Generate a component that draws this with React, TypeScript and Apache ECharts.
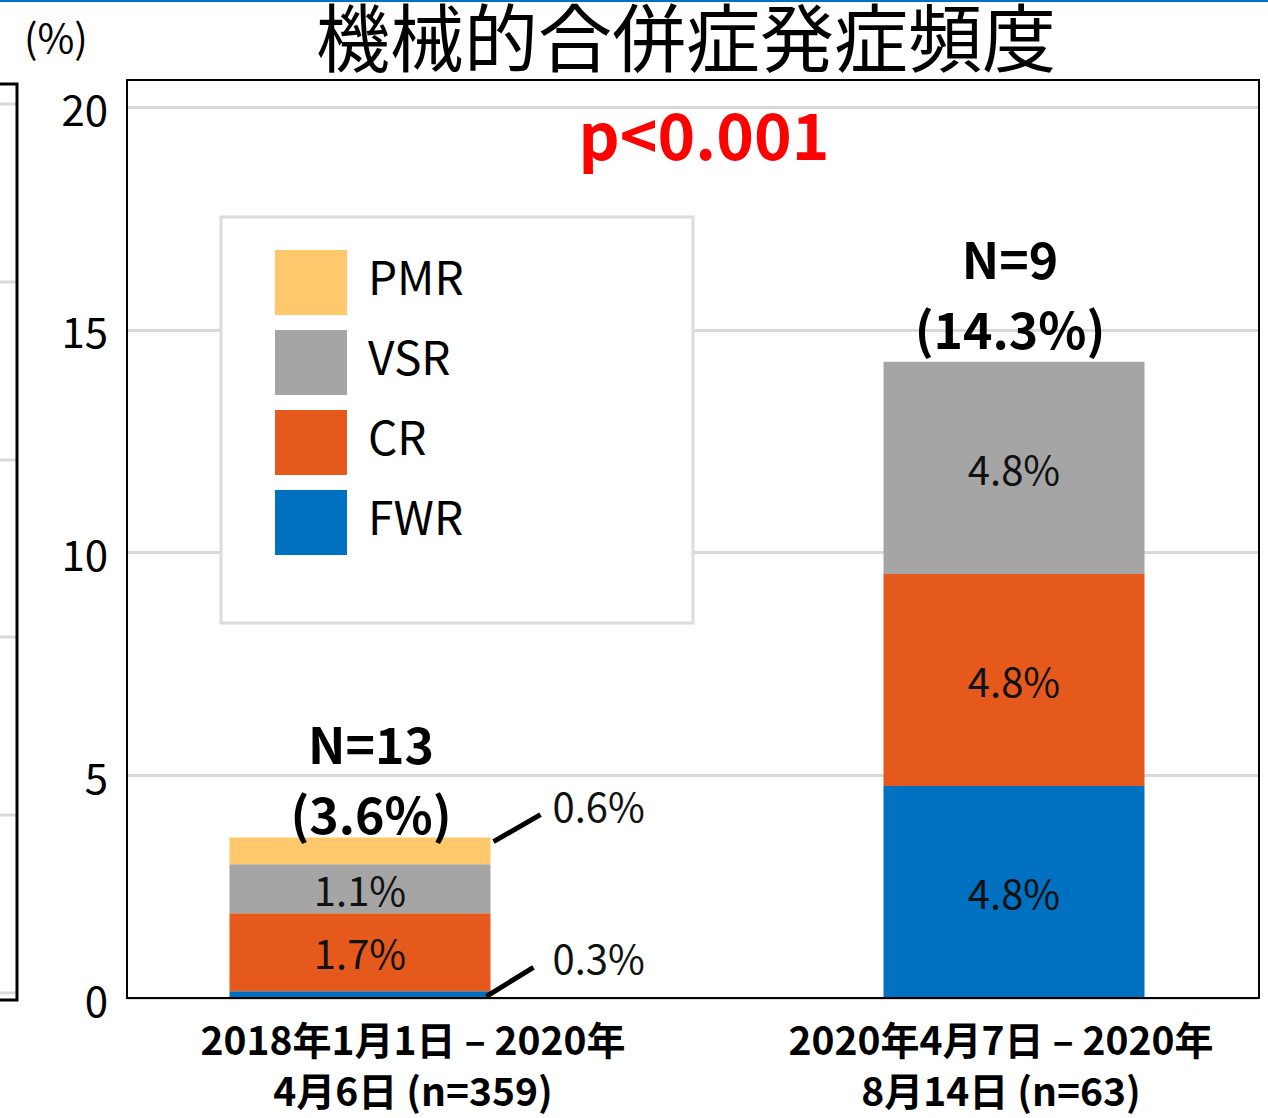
import React, { useEffect, useRef } from "react";
import * as echarts from "echarts";

const FONT = "'Noto Sans CJK JP', 'Noto Sans', sans-serif";

const TITLE = "機械的合併症発症頻度";
const UNIT = "(%)";
const P_TEXT = "p<0.001";

const categories = [
  "2018年1月1日 – 2020年\n4月6日 (n=359)",
  "2020年4月7日 – 2020年\n8月14日 (n=63)",
];
const seriesNames = ["FWR", "CR", "VSR", "PMR"];
const legendOrder = ["PMR", "VSR", "CR", "FWR"];
const colors = ["#0070C0", "#E6591C", "#A5A5A5", "#FEC86B"];

const fwr = [0.15, 4.76];
const cr = [1.75, 4.76];
const vsr = [1.1, 4.76];
const pmr = [0.6, 0];

const fwrLabels = ["0.3%", "4.8%"];
const crLabels = ["1.7%", "4.8%"];
const vsrLabels = ["1.1%", "4.8%"];
const pmrLabels = ["0.6%", ""];

const totalN = ["N=13", "N=9"];
const totalPct = ["(3.6%)", "(14.3%)"];

const yMin = 0;
const yMax = 20;
const yInterval = 5;

// layout constants (pixels)
const PLOT_L = 127;
const PLOT_R = 1258;
const BAR_W = 261;
const BAR_C0 = 360;
const BAR_C1 = 1014;
const LAB_C0 = 413;
const LAB_C1 = 1001;
const TOTAL_LABEL_ADJ = [
  { dx: 11, distance: -9 },
  { dx: -4, distance: 0 },
];

// the bar grid uses 3 equal bands; the two bars sit in band 0 and band 2
const SLOTS = [0, 2];
const N_SLOTS = 3;

// legend icon: a square with an invisible point above it (lifts the square relative to the text)
const LEGEND_ICON = "path://M0,0h0.01v0.01h-0.01z M0,16h72v65h-72z";

export default function App() {
  const ref = useRef<HTMLDivElement>(null);

  useEffect(() => {
    if (!ref.current) return;
    const chart = echarts.init(ref.current, undefined, { renderer: "svg" });

    const values = [fwr, cr, vsr, pmr];
    const labels = [fwrLabels, crLabels, vsrLabels, pmrLabels];
    // left bar's FWR and PMR labels are drawn outside with leader lines
    const outside = [[true, false], [false, false], [false, false], [true, true]];
    const totals = categories.map((_, i) => values.reduce((s, arr) => s + arr[i], 0));

    const pad = (arr: any[]) => {
      const out: any[] = new Array(N_SLOTS).fill("-");
      arr.forEach((v, i) => (out[SLOTS[i]] = v));
      return out;
    };
    const slotCats = pad(categories).map((c, k) => (c === "-" ? `_${k}` : c));
    const catOf = (dataIndex: number) => SLOTS.indexOf(dataIndex);

    const band = (BAR_C1 - BAR_C0) / (SLOTS[1] - SLOTS[0]);
    const barGridLeft = BAR_C0 - band * (SLOTS[0] + 0.5);
    const barGridWidth = band * N_SLOTS;

    const labStep = LAB_C1 - LAB_C0;
    const labMin = (PLOT_L - LAB_C0) / labStep;
    const labMax = (PLOT_R - LAB_C0) / labStep;

    const barSeries = seriesNames.map((name, si) => ({
      name,
      type: "bar",
      stack: "total",
      xAxisIndex: 1,
      yAxisIndex: 1,
      barWidth: BAR_W,
      itemStyle: { color: colors[si] },
      label: {
        show: true,
        position: "inside",
        fontSize: 40,
        color: "#111",
        fontFamily: FONT,
        formatter: (p: any) => labels[si][catOf(p.dataIndex)] ?? "",
      },
      data: pad(
        values[si].map((v, i) => (outside[si][i] ? { value: v, label: { show: false } } : v))
      ),
    }));

    const gridBox = { left: PLOT_L, width: PLOT_R - PLOT_L, top: 107, bottom: 120 };

    const option: any = {
      animation: false,
      backgroundColor: "#ffffff",
      textStyle: { fontFamily: FONT },
      title: {
        text: TITLE,
        left: 316,
        top: 0,
        padding: 0,
        textStyle: {
          fontSize: 74,
          lineHeight: 66,
          fontWeight: "normal",
          color: "#000",
          fontFamily: FONT,
        },
      },
      legend: {
        data: legendOrder.map((name) => ({ name, icon: LEGEND_ICON })),
        orient: "vertical",
        left: 275,
        top: 234,
        padding: 0,
        z: 6,
        itemWidth: 72,
        itemHeight: 81,
        itemGap: -1,
        selectedMode: false,
        textStyle: {
          fontSize: 46,
          color: "#000",
          fontFamily: FONT,
          padding: [0, 0, 0, 16],
        },
      },
      grid: [
        { ...gridBox },
        { left: barGridLeft, width: barGridWidth, top: 107, bottom: 120 },
        { ...gridBox },
      ],
      xAxis: [
        { type: "category", gridIndex: 0, data: categories, show: false },
        { type: "category", gridIndex: 1, data: slotCats, show: false },
        {
          type: "value",
          gridIndex: 2,
          min: labMin,
          max: labMax,
          axisLine: { show: false },
          axisTick: { show: false },
          splitLine: { show: false },
          axisLabel: {
            customValues: [0, 1],
            formatter: (v: number) => categories[Math.round(v)] ?? "",
            fontSize: 39,
            fontWeight: "bold",
            lineHeight: 51,
            color: "#000",
            margin: 14,
            fontFamily: FONT,
          },
        },
      ],
      yAxis: [
        {
          type: "value",
          gridIndex: 0,
          min: yMin,
          max: yMax,
          interval: yInterval,
          axisLine: { show: false },
          axisTick: { show: false },
          axisLabel: { fontSize: 42, color: "#000", margin: 19, fontFamily: FONT },
          splitLine: { show: true, lineStyle: { color: "#d9d9d9", width: 3 } },
        },
        { type: "value", gridIndex: 1, min: yMin, max: yMax, show: false },
        { type: "value", gridIndex: 2, min: yMin, max: yMax, show: false },
      ],
      series: [
        ...barSeries,
        {
          name: "total",
          type: "scatter",
          xAxisIndex: 1,
          yAxisIndex: 1,
          symbolSize: 0,
          itemStyle: { color: "#000", opacity: 1 },
          z: 5,
          label: {
            show: true,
            position: "top",
            distance: -5,
            fontSize: 50,
            fontWeight: "bold",
            lineHeight: 70,
            color: "#000",
            fontFamily: FONT,
            formatter: (p: any) => {
              const c = catOf(p.dataIndex);
              return `${totalN[c]}\n${totalPct[c]}`;
            },
          },
          data: pad(
            totals.map((t, i) => ({
              value: t,
              label: {
                offset: [TOTAL_LABEL_ADJ[i].dx, 0],
                distance: TOTAL_LABEL_ADJ[i].distance,
              },
            }))
          ),
        },
      ],
    };

    chart.setOption(option);

    const px = (cat: number, v: number) =>
      chart.convertToPixel({ gridIndex: 1 }, [SLOTS[cat], v]) as number[];

    const pTop = px(0, totals[0]);
    const pF = px(0, fwr[0]);
    const rightEdge = pTop[0] + BAR_W / 2;

    const s1 = [rightEdge + 3, pTop[1] + 4];
    const e1 = [s1[0] + 47, s1[1] - 27];
    const s2 = [rightEdge - 4, pF[1] + 5];
    const e2 = [s2[0] + 47, s2[1] - 29];

    const leftBoxLines = [104, 282, 460, 637, 815, 993].map((y) => ({
      type: "line",
      z: 1,
      shape: { x1: 0, y1: y, x2: 16, y2: y },
      style: { stroke: "#d9d9d9", lineWidth: 3 },
    }));

    chart.setOption({
      graphic: [
        {
          type: "line",
          z: 10,
          shape: { x1: 0, y1: 1, x2: 1268, y2: 1 },
          style: { stroke: "#0070C0", lineWidth: 2 },
        },
        ...leftBoxLines,
        {
          type: "rect",
          z: 2,
          shape: { x: -10, y: 84, width: 27, height: 916 },
          style: { fill: "none", stroke: "#000", lineWidth: 3 },
        },
        {
          type: "rect",
          z: 3,
          shape: { x: PLOT_L, y: 80, width: PLOT_R - PLOT_L + 1, height: 918 },
          style: { fill: "none", stroke: "#000", lineWidth: 2 },
        },
        {
          type: "rect",
          z: 3,
          shape: { x: 221, y: 217, width: 472, height: 406 },
          style: { fill: "#ffffff", stroke: "#dcdcdc", lineWidth: 3 },
        },
        {
          type: "text",
          z: 5,
          x: 24,
          y: 16,
          style: { text: UNIT, fontSize: 40, fill: "#000", fontFamily: FONT },
        },
        {
          type: "text",
          z: 5,
          x: 704,
          y: 100,
          style: {
            text: P_TEXT,
            fontSize: 64,
            fontWeight: "bold",
            fill: "#ff0000",
            fontFamily: FONT,
            textAlign: "center",
          },
        },
        {
          type: "line",
          z: 6,
          shape: { x1: s1[0], y1: s1[1], x2: e1[0], y2: e1[1] },
          style: { stroke: "#000", lineWidth: 5 },
        },
        {
          type: "line",
          z: 6,
          shape: { x1: s2[0], y1: s2[1], x2: e2[0], y2: e2[1] },
          style: { stroke: "#000", lineWidth: 5 },
        },
        {
          type: "text",
          z: 6,
          x: e1[0] + 12,
          y: e1[1] - 10,
          style: {
            text: pmrLabels[0],
            fontSize: 40,
            fill: "#111",
            fontFamily: FONT,
            textVerticalAlign: "middle",
          },
        },
        {
          type: "text",
          z: 6,
          x: e2[0] + 19,
          y: e2[1] - 10,
          style: {
            text: fwrLabels[0],
            fontSize: 40,
            fill: "#111",
            fontFamily: FONT,
            textVerticalAlign: "middle",
          },
        },
      ],
    });

    return () => chart.dispose();
  }, []);

  return (
    <div
      ref={ref}
      style={{ position: "fixed", left: 0, top: 0, width: 1268, height: 1118, background: "#fff" }}
    />
  );
}
